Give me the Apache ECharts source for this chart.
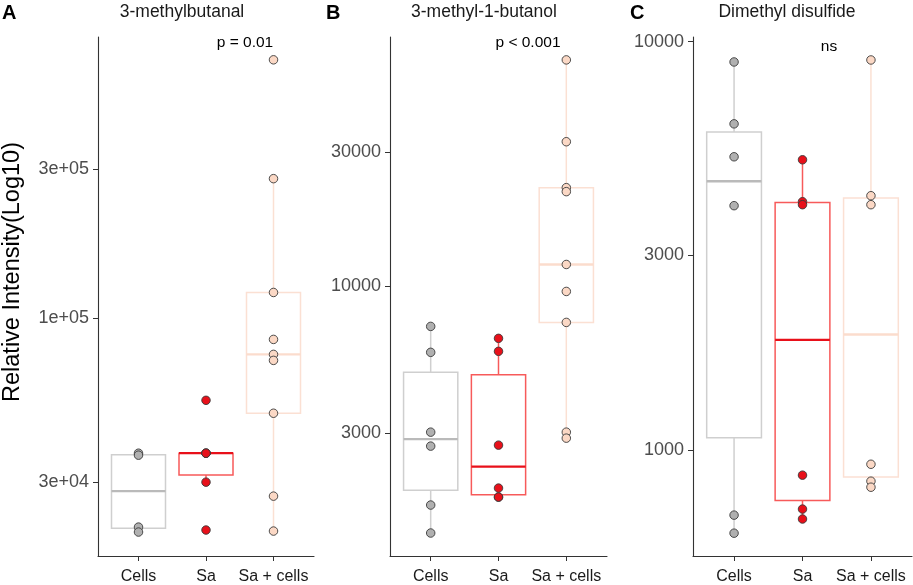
<!DOCTYPE html>
<html lang="en">
<head>
<meta charset="UTF-8" />
<script src="https://cdn.jsdelivr.net/npm/echarts@6/dist/echarts.min.js"></script>
<title>Boxplots</title>
<style>html,body{margin:0;padding:0;background:#fff}</style>
</head>
<body>
<div id="main" style="width:913px;height:585px"></div>
<script type="text/javascript">
const groups = ['Cells', 'Sa', 'Sa + cells'];
const panelTitles = ['3-methylbutanal', '3-methyl-1-butanol', 'Dimethyl disulfide'];
const panelLetters = ['A', 'B', 'C'];
const pLabels = ['p = 0.01', 'p < 0.001', 'ns'];

// A: 3-methylbutanal
const aCells = [37040, 36500, 21500, 20730];
const aSa = [54660, 37040, 37040, 37040, 29930, 21040];
const aSaCells = [670000, 279400, 120900, 85580, 76650, 73340, 49700, 27000, 20880];
const aTicks = [30000, 100000, 300000];
const aTickLabels = ['3e+04', '1e+05', '3e+05'];
const aRange = [17380, 792500];

// B: 3-methyl-1-butanol
const bCells = [7194, 5817, 3024, 2697, 1664, 1323];
const bSa = [6523, 5864, 2719, 1912, 1776, 1776];
const bSaCells = [63900, 32680, 22430, 21710, 11950, 9581, 7433, 3024, 2879];
const bTicks = [3000, 10000, 30000];
const bTickLabels = ['3000', '10000', '30000'];
const bRange = [1096, 77090];

// C: Dimethyl disulfide
const cCells = [8919, 6291, 5224, 3965, 692, 625];
const cSa = [5137, 4055, 3987, 867, 716, 677];
const cSaCells = [9020, 4194, 3987, 922, 838, 810];
const cTicks = [1000, 3000, 10000];
const cTickLabels = ['1000', '3000', '10000'];
const cRange = [549.5, 10268];

const boxColors = ['#cfcfcf', '#f75a5a', '#fbe0d3'];
const medianColors = ['#bababa', '#e8101a', '#fbdccd'];
const pointColors = ['#b0b0b0', '#e8101a', '#fbd8c5'];

const panels = [
	{ data: [aCells, aSa, aSaCells], ticks: aTicks, labels: aTickLabels, range: aRange, left: 98, width: 216 },
	{ data: [bCells, bSa, bSaCells], ticks: bTicks, labels: bTickLabels, range: bRange, left: 390, width: 217 },
	{ data: [cCells, cSa, cSaCells], ticks: cTicks, labels: cTickLabels, range: cRange, left: 693, width: 219 },
];

const font = 'Liberation Sans, Arial, sans-serif';

// ggplot style stats (type 7 quantiles on log scale, Tukey whiskers)
const quantile = (sorted, p) => {
	const h = (sorted.length - 1) * p;
	const lo = Math.floor(h);
	const hi = Math.ceil(h);
	return sorted[lo] + (h - lo) * (sorted[hi] - sorted[lo]);
};
const boxStats = values => {
	const logs = values.map(Math.log10).sort((a, b) => a - b);
	const q1 = quantile(logs, 0.25);
	const med = quantile(logs, 0.5);
	const q3 = quantile(logs, 0.75);
	const iqr = q3 - q1;
	const inside = logs.filter(v => v >= q1 - 1.5 * iqr && v <= q3 + 1.5 * iqr);
	return [Math.min(...inside), q1, med, q3, Math.max(...inside)];
};

const grids = [];
const xAxes = [];
const yAxes = [];
const series = [];

panels.forEach((panel, i) => {
	grids.push({ left: panel.left, width: panel.width, top: 37, height: 520 });
	xAxes.push({
		gridIndex: i,
		type: 'value',
		min: 0.4,
		max: 3.6,
		splitLine: { show: false },
		axisLine: { show: true, onZero: false, lineStyle: { color: '#333', width: 1.1 } },
		axisTick: { show: true, length: 5, customValues: [1, 2, 3], lineStyle: { color: '#333' } },
		axisLabel: {
			customValues: [1, 2, 3],
			formatter: v => groups[Math.round(v) - 1],
			margin: 13,
			fontSize: 16,
			color: '#1a1a1a',
			fontFamily: font,
		},
	});
	const logTicks = panel.ticks.map(Math.log10);
	yAxes.push({
		gridIndex: i,
		type: 'value',
		min: Math.log10(panel.range[0]),
		max: Math.log10(panel.range[1]),
		splitLine: { show: false },
		axisLine: { show: true, onZero: false, lineStyle: { color: '#333', width: 1.1 } },
		axisTick: { show: true, length: 5, customValues: logTicks, lineStyle: { color: '#333' } },
		axisLabel: {
			customValues: logTicks,
			formatter: v => {
				const k = logTicks.findIndex(t => Math.abs(t - v) < 1e-6);
				return k >= 0 ? panel.labels[k] : '';
			},
			margin: 9,
			fontSize: 18,
			color: '#4d4d4d',
			fontFamily: font,
		},
	});

	series.push({
		type: 'custom',
		xAxisIndex: i,
		yAxisIndex: i,
		z: 2,
		data: panel.data.map((vals, g) => [g + 1].concat(boxStats(vals))),
		renderItem: (params, api) => {
			const x = api.value(0);
			const g = params.dataIndex;
			const half = 0.4;
			const lo = api.coord([x, api.value(1)]);
			const q1 = api.coord([x, api.value(2)]);
			const q3 = api.coord([x, api.value(4)]);
			const hi = api.coord([x, api.value(5)]);
			const q1L = api.coord([x - half, api.value(2)]);
			const q3L = api.coord([x - half, api.value(4)]);
			const medL = api.coord([x - half, api.value(3)]);
			const medR = api.coord([x + half, api.value(3)]);
			const stroke = { stroke: boxColors[g], lineWidth: 1.5, fill: null };
			return {
				type: 'group',
				children: [
					{ type: 'line', shape: { x1: hi[0], y1: hi[1], x2: q3[0], y2: q3[1] }, style: stroke },
					{ type: 'line', shape: { x1: q1[0], y1: q1[1], x2: lo[0], y2: lo[1] }, style: stroke },
					{
						type: 'rect',
						shape: { x: q3L[0], y: q3L[1], width: medR[0] - medL[0], height: q1L[1] - q3L[1] },
						style: stroke,
					},
					{
						type: 'line',
						shape: { x1: medL[0], y1: medL[1], x2: medR[0], y2: medR[1] },
						style: { stroke: medianColors[g], lineWidth: 2.3 },
					},
				],
			};
		},
	});

	panel.data.forEach((vals, g) => {
		series.push({
			type: 'scatter',
			xAxisIndex: i,
			yAxisIndex: i,
			z: 3,
			symbol: 'circle',
			symbolSize: 8.5,
			itemStyle: { color: pointColors[g], borderColor: '#3a3a3a', borderWidth: 0.9, opacity: 1 },
			data: vals.map(v => [g + 1, Math.log10(v)]),
		});
	});
});

const texts = [];
const letterX = [2, 326, 630];
const titleX = [182, 484, 787];
const pX = [245, 528, 829];
const pY = [43, 43, 47];
panels.forEach((p, i) => {
	texts.push({
		type: 'text', left: letterX[i], top: 3,
		style: { text: panelLetters[i], font: 'bold 20px ' + font, fill: '#000' },
	});
	texts.push({
		type: 'text', x: titleX[i], y: 12,
		style: { text: panelTitles[i], font: '17.5px ' + font, fill: '#1a1a1a', textAlign: 'center', textVerticalAlign: 'middle' },
	});
	texts.push({
		type: 'text', x: pX[i], y: pY[i],
		style: { text: pLabels[i], font: '15.5px ' + font, fill: '#000', textAlign: 'center', textVerticalAlign: 'middle' },
	});
});
texts.push({
	type: 'text', x: 13, y: 272, rotation: Math.PI / 2,
	style: { text: 'Relative Intensity(Log10)', font: '23.5px ' + font, fill: '#000', textAlign: 'center', textVerticalAlign: 'middle' },
});

const chart = echarts.init(document.getElementById('main'));
chart.setOption({
	animation: false,
	backgroundColor: '#fff',
	grid: grids,
	xAxis: xAxes,
	yAxis: yAxes,
	graphic: texts,
	series,
});
</script>
</body>
</html>
